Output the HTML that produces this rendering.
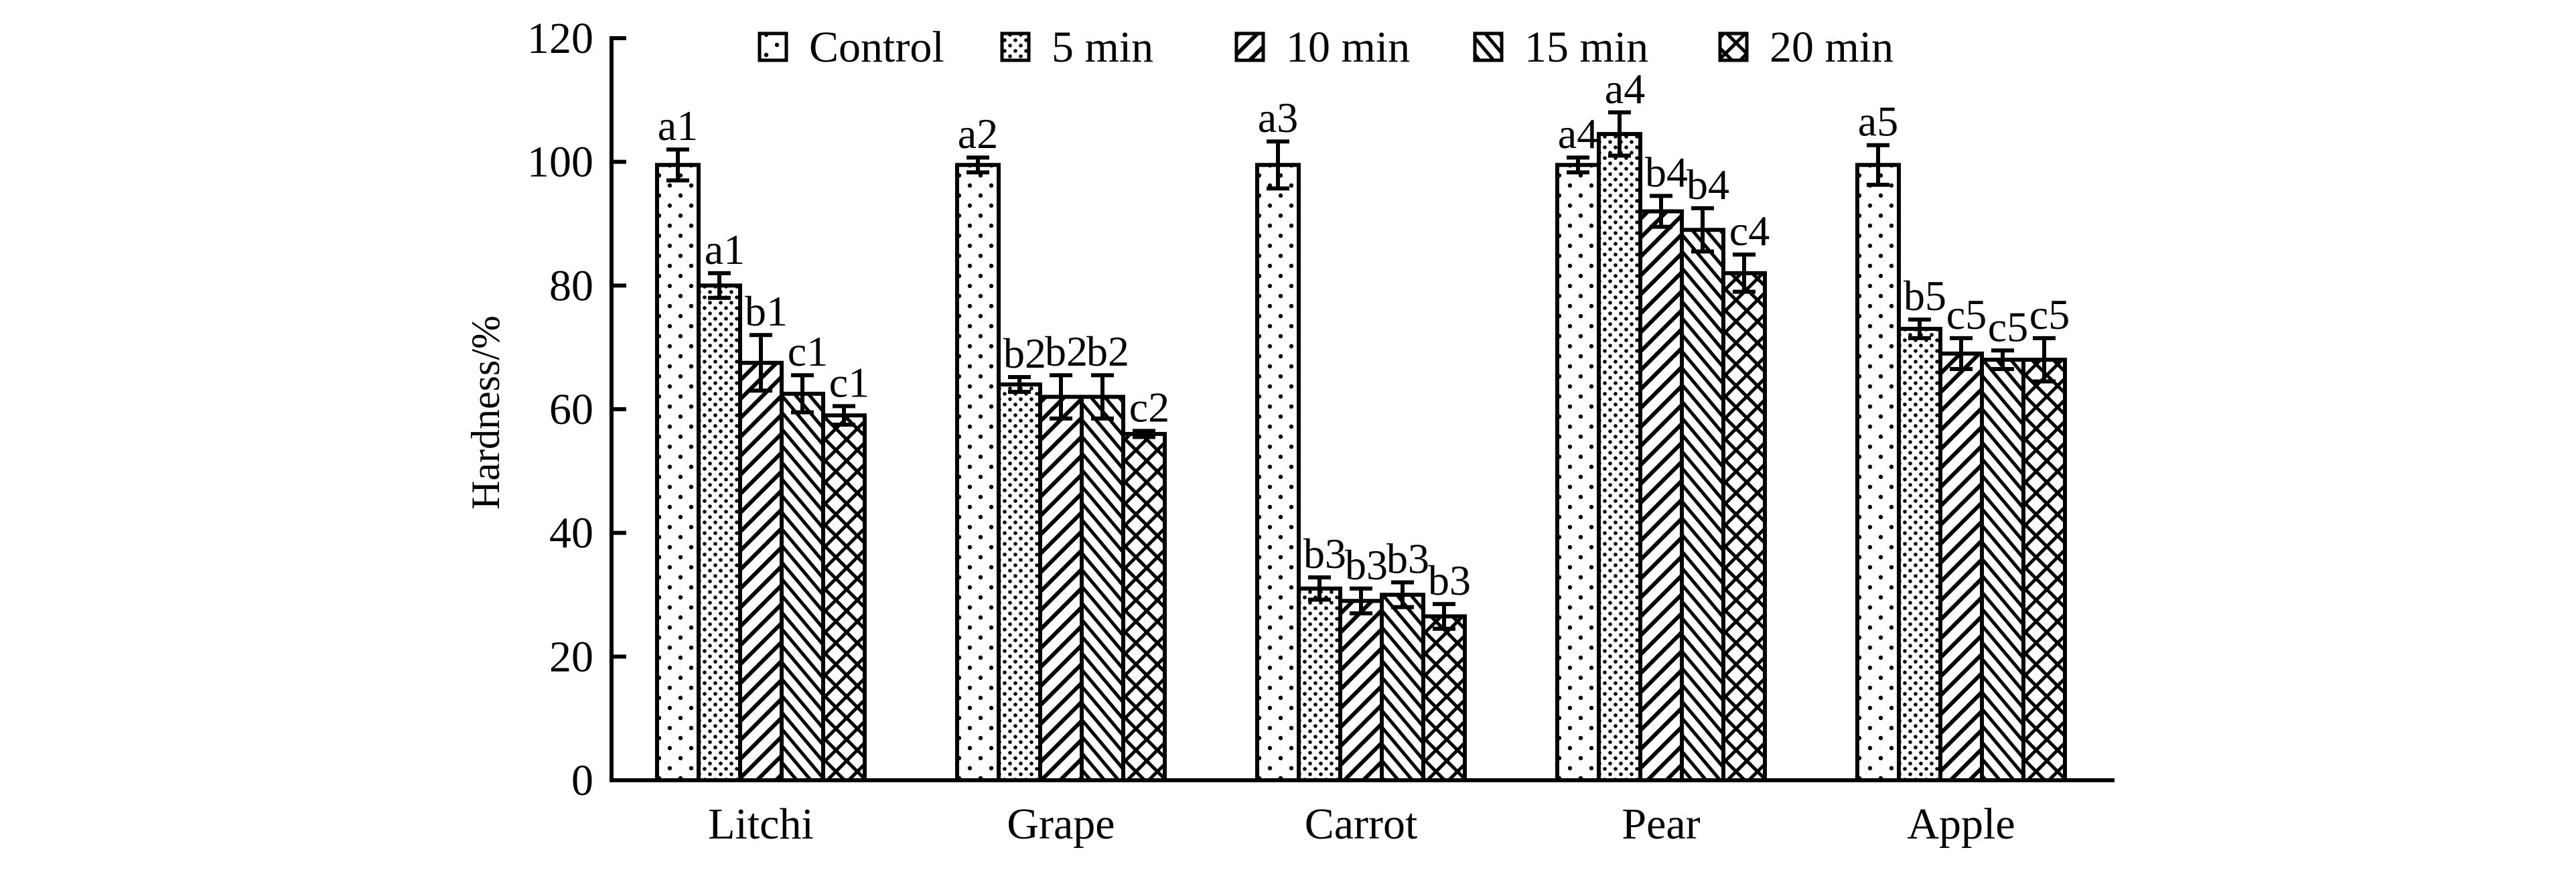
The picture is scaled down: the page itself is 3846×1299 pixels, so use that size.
<!DOCTYPE html>
<html><head><meta charset="utf-8"><style>
html,body{margin:0;padding:0;background:#fff;}
svg{display:block;font-family:"Liberation Serif",serif;}
</style></head><body>
<svg id="chart" width="3846" height="1299" viewBox="0 0 3846 1299" xmlns="http://www.w3.org/2000/svg">
<defs>
<pattern id="p0" patternUnits="userSpaceOnUse" width="32" height="30"><rect width="32" height="30" fill="#fff"/><circle cx="8" cy="7" r="3.2" fill="#000"/><circle cx="24" cy="22" r="3.2" fill="#000"/></pattern>
<pattern id="p1" patternUnits="userSpaceOnUse" width="16" height="16"><rect width="16" height="16" fill="#fff"/><circle cx="4" cy="4" r="2.8" fill="#000"/><circle cx="12" cy="12" r="2.8" fill="#000"/></pattern>
<pattern id="p2" patternUnits="userSpaceOnUse" width="20" height="20" patternTransform="rotate(45)"><rect width="20" height="20" fill="#fff"/><rect x="0" y="0" width="6" height="20" fill="#000"/></pattern>
<pattern id="p3" patternUnits="userSpaceOnUse" width="16" height="16" patternTransform="rotate(-40)"><rect width="16" height="16" fill="#fff"/><rect x="0" y="0" width="5" height="16" fill="#000"/></pattern>
<pattern id="p4" patternUnits="userSpaceOnUse" width="32" height="32"><rect width="32" height="32" fill="#fff"/><path d="M-4,-4 L36,36 M36,-4 L-4,36" stroke="#000" stroke-width="5"/></pattern>
</defs>
<g id="axes"></g><g id="bars"></g><g id="legend"></g>
</svg>
<script>
const categories=["Litchi","Grape","Carrot","Pear","Apple"];
const series=["Control","5 min","10 min","15 min","20 min"];
const control=[99.5,99.5,99.5,99.5,99.5];
const min5=[80,64,31,104.5,73];
const min10=[67.5,62,29,92,69];
const min15=[62.5,62,30,89,68];
const min20=[59,56,26.5,82,68];
const err0=[2.5,1.2,3.8,1.2,3.2];
const err5=[2,1.2,1.8,3.5,1.5];
const err10=[4.5,3.5,2,2.5,2.5];
const err15=[3,3.5,2,3.5,1.5];
const err20=[1.5,0.5,2,3,3.5];
const lab0=["a1","a2","a3","a4","a5"];
const lab5=["a1","b2","b3","a4","b5"];
const lab10=["b1","b2","b3","b4","c5"];
const lab15=["c1","b2","b3","b4","c5"];
const lab20=["c1","c2","b3","c4","c5"];
const yTicks=[0,20,40,60,80,100,120];
const vals=[control,min5,min10,min15,min20],errs=[err0,err5,err10,err15,err20],labs=[lab0,lab5,lab10,lab15,lab20];
const NS="http://www.w3.org/2000/svg";
const X0=913,Y0=1165,YT=57,XEND=3157;
const y=v=>Y0-(Y0-YT)*v/120;
const gx=i=>981+i*448;const BW=62;
function mk(t,a,p){const e=document.createElementNS(NS,t);for(const k in a)e.setAttribute(k,a[k]);if(t==='text'&&a.txt!==undefined){e.removeAttribute('txt');e.textContent=a.txt;}p.appendChild(e);return e;}
const ax=document.getElementById('axes'),bg=document.getElementById('bars'),lg=document.getElementById('legend');
let e=mk('line',{x1:X0,y1:Y0,x2:XEND,y2:Y0,stroke:'#000','stroke-width':6},ax);


e=mk('line',{x1:X0,y1:Y0+3,x2:X0,y2:YT-3,stroke:'#000','stroke-width':6},ax);


yTicks.forEach(t=>{
 const tk=mk('line',{x1:X0,y1:y(t),x2:X0+22,y2:y(t),stroke:'#000','stroke-width':6},ax);
 
 
 const tl=mk('text',{x:886,y:y(t)+22,'font-size':66,'text-anchor':'end',txt:String(t)},ax);
 
 
});
e=mk('text',{x:0,y:0,'font-size':60,'text-anchor':'middle',transform:'translate(745,616) rotate(-90)',txt:'Hardness/%'},ax);


categories.forEach((c,i)=>{
 const t=mk('text',{x:gx(i)+2.5*BW,y:1252,'font-size':66,'text-anchor':'middle',txt:c},ax);
 
 
 for(let s=0;s<5;s++){
  const v=vals[s][i],er=errs[s][i],x=gx(i)+s*BW;
  const r=mk('rect',{x:x,y:y(v),width:BW,height:Y0-y(v),fill:'url(#p'+s+')',stroke:'#000','stroke-width':6},bg);
  
  
  const cx=x+BW/2;
  const eb=mk('path',{d:`M${cx},${y(v+er)}V${y(v-er)}M${cx-17},${y(v+er)}H${cx+17}M${cx-17},${y(v-er)}H${cx+17}`,stroke:'#000','stroke-width':6,fill:'none'},bg);
  
  
  const lt=mk('text',{x:cx+(s?8:0),y:y(v+er)-14,'font-size':64,'text-anchor':'middle',txt:labs[s][i]},bg);
  
  
 }
});
const lbx=[1134,1496,1846,2202,2568];
series.forEach((s,k)=>{
 const g=mk('g',{},lg);
 
 
 mk('rect',{x:lbx[k],y:50,width:40,height:40,fill:'url(#p'+k+')',stroke:'#000','stroke-width':5},g);
 mk('text',{x:lbx[k]+74,y:92,'font-size':66,txt:s},g);
});
</script>
</body></html>
